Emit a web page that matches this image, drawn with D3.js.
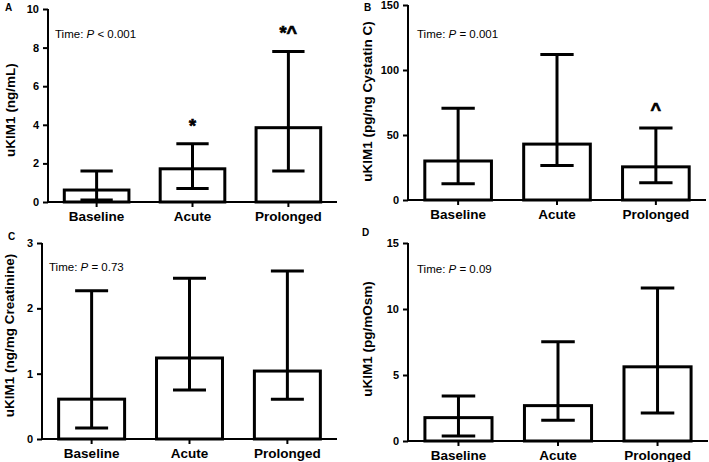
<!DOCTYPE html>
<html>
<head>
<meta charset="utf-8">
<script src="https://cdn.jsdelivr.net/npm/d3@7"></script>
<style>
  html, body { margin: 0; padding: 0; background: #fff; }
  svg { display: block; }
  text { font-family: "Liberation Sans", Arial, Helvetica, sans-serif; fill: #000; }
</style>
</head>
<body>
<svg id="chart" width="709" height="462"></svg>
<script>
// ---------- DATA ----------
const categories = ["Baseline", "Acute", "Prolonged"];

const panelLetters = ["A", "B", "C", "D"];
const yTitles = ["uKIM1 (ng/mL)", "uKIM1 (pg/ng Cystatin C)", "uKIM1 (ng/mg Creatinine)", "uKIM1 (pg/mOsm)"];
const pTexts = [" < 0.001", " = 0.001", " = 0.73", " = 0.09"];

const yTicksA = [0, 2, 4, 6, 8, 10];
const yTicksB = [0, 50, 100, 150];
const yTicksC = [0, 1, 2, 3];
const yTicksD = [0, 5, 10, 15];

const meanA = [0.62, 1.72, 3.85];
const lowA  = [0.10, 0.70, 1.60];
const highA = [1.60, 3.02, 7.80];

const meanB = [30, 43, 25.5];
const lowB  = [12.5, 26.5, 13.3];
const highB = [70.5, 112, 55.4];

const meanC = [0.61, 1.24, 1.04];
const lowC  = [0.17, 0.75, 0.61];
const highC = [2.27, 2.46, 2.57];

const meanD = [1.77, 2.68, 5.62];
const lowD  = [0.38, 1.57, 2.13];
const highD = [3.40, 7.52, 11.6];

const marksA = ["", "*", "*^"];
const marksB = ["", "", "^"];
const marksC = ["", "", ""];
const marksD = ["", "", ""];

// ---------- LAYOUT ----------
const panels = [
  { letter: panelLetters[0], title: yTitles[0], p: pTexts[0], ticks: yTicksA, mean: meanA, low: lowA, high: highA, marks: marksA,
    left: 48, right: 337, top: 9, bottom: 202, letterX: 5, letterY: 11, titleX: 15, titleY: 110, pX: 55, pY: 38 },
  { letter: panelLetters[1], title: yTitles[1], p: pTexts[1], ticks: yTicksB, mean: meanB, low: lowB, high: highB, marks: marksB,
    left: 408, right: 706, top: 5, bottom: 200, letterX: 364, letterY: 11, titleX: 372, titleY: 101.5, pX: 417, pY: 38 },
  { letter: panelLetters[2], title: yTitles[2], p: pTexts[2], ticks: yTicksC, mean: meanC, low: lowC, high: highC, marks: marksC,
    left: 42, right: 337, top: 243, bottom: 439, letterX: 8, letterY: 240, titleX: 13.5, titleY: 335.5, pX: 49, pY: 271 },
  { letter: panelLetters[3], title: yTitles[3], p: pTexts[3], ticks: yTicksD, mean: meanD, low: lowD, high: highD, marks: marksD,
    left: 408, right: 708, top: 243, bottom: 441, letterX: 362, letterY: 236, titleX: 372, titleY: 339, pX: 417, pY: 273 }
];

const svg = d3.select("#chart");
const FONT = "'Liberation Sans', Arial, sans-serif";

panels.forEach(P => {
  const g = svg.append("g");
  const ticks = P.ticks;
  const y = d3.scaleLinear().domain([ticks[0], ticks[ticks.length - 1]]).range([P.bottom, P.top]);
  const x = d3.scaleBand().domain(categories).range([P.left, P.right]).paddingInner(0.326).paddingOuter(0.17);

  const rows = categories.map((c, i) => ({ c, mean: P.mean[i], low: P.low[i], high: P.high[i], mark: P.marks[i] }));

  // bars
  g.selectAll("rect.bar").data(rows).enter().append("rect")
    .attr("class", "bar")
    .attr("x", d => x(d.c))
    .attr("y", d => y(d.mean))
    .attr("width", x.bandwidth())
    .attr("height", d => y(0) - y(d.mean))
    .attr("fill", "#fff")
    .attr("stroke", "#000")
    .attr("stroke-width", 3);

  // error bars
  const cap = x.bandwidth() / 2;
  const cx = d => x(d.c) + x.bandwidth() / 2;
  const eb = g.selectAll("g.eb").data(rows).enter().append("g").attr("class", "eb")
    .attr("stroke", "#000").attr("stroke-width", 3);
  eb.append("line")
    .attr("x1", cx).attr("x2", cx)
    .attr("y1", d => y(d.low)).attr("y2", d => y(d.high));
  eb.append("line")
    .attr("x1", d => cx(d) - cap / 2).attr("x2", d => cx(d) + cap / 2)
    .attr("y1", d => y(d.high)).attr("y2", d => y(d.high));
  eb.append("line")
    .attr("x1", d => cx(d) - cap / 2).attr("x2", d => cx(d) + cap / 2)
    .attr("y1", d => y(d.low)).attr("y2", d => y(d.low));

  // significance marks
  g.selectAll("text.mark").data(rows.filter(d => d.mark)).enter().append("text")
    .attr("class", "mark")
    .attr("x", cx)
    .attr("y", d => y(d.high) - 12)
    .attr("text-anchor", "middle")
    .attr("font-size", 18)
    .attr("font-weight", "bold")
    .attr("stroke", "#000")
    .attr("stroke-width", 0.7)
    .text(d => d.mark);

  // y axis
  const yAxis = d3.axisLeft(y).tickValues(ticks).tickSize(5).tickPadding(4).tickFormat(d3.format("d"));
  const ya = g.append("g").attr("transform", `translate(${P.left},0)`).call(yAxis);
  ya.select(".domain").attr("stroke-width", 2).attr("d", `M0,${P.bottom}V${P.top}`);
  ya.selectAll(".tick line").attr("stroke-width", 2);
  ya.selectAll(".tick text").attr("font-size", 11).attr("font-weight", "bold").attr("font-family", FONT);

  // x axis
  const xAxis = d3.axisBottom(x).tickSize(5).tickPadding(4);
  const xa = g.append("g").attr("transform", `translate(0,${P.bottom})`).call(xAxis);
  xa.select(".domain").attr("stroke-width", 2).attr("d", `M${P.left - 1},0H${P.right}`);
  xa.selectAll(".tick line").attr("stroke-width", 2);
  xa.selectAll(".tick text").attr("font-size", 13.5).attr("font-weight", "bold").attr("font-family", FONT);

  // y title
  g.append("text")
    .attr("transform", `translate(${P.titleX},${P.titleY}) rotate(-90)`)
    .attr("text-anchor", "middle")
    .attr("font-size", 13.5)
    .attr("font-weight", "bold")
    .text(P.title);

  // panel letter
  g.append("text")
    .attr("x", P.letterX).attr("y", P.letterY)
    .attr("font-size", 10).attr("font-weight", "bold")
    .text(P.letter);

  // p-value annotation
  const t = g.append("text").attr("x", P.pX).attr("y", P.pY).attr("font-size", 11.5);
  t.append("tspan").text("Time: ");
  t.append("tspan").attr("font-style", "italic").text("P");
  t.append("tspan").text(P.p);
});
</script>
</body>
</html>
